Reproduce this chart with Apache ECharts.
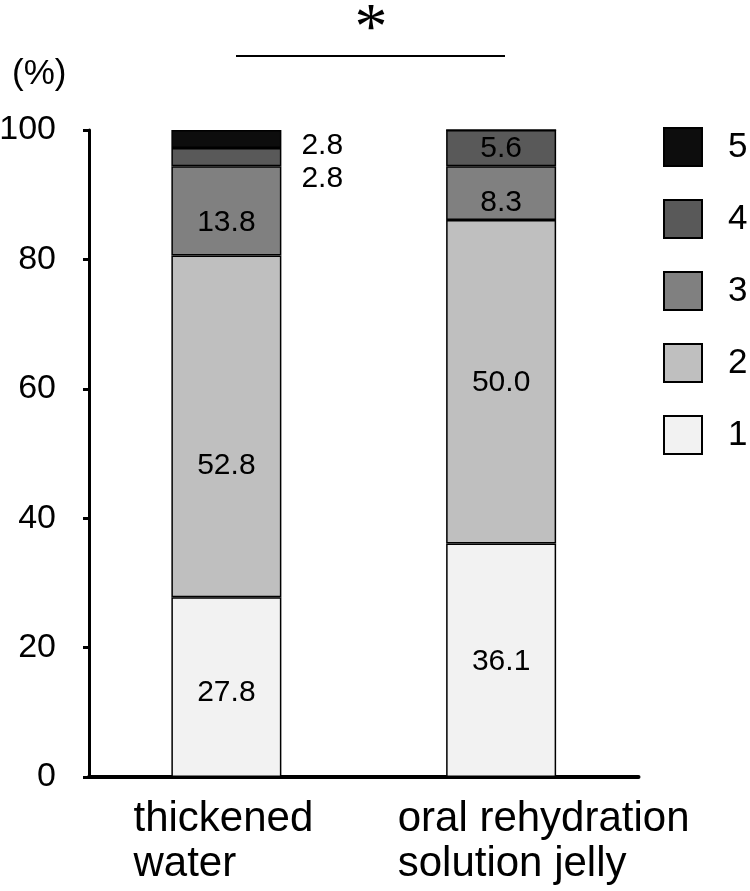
<!DOCTYPE html>
<html>
<head>
<meta charset="utf-8">
<script src="https://cdn.jsdelivr.net/npm/echarts@6/dist/echarts.min.js"></script>
<style>html,body{margin:0;padding:0;background:#fff}#c{width:750px;height:891px}</style>
</head>
<body>
<div id="c"></div>
<script>
const categories = ['thickened water', 'oral rehydration solution jelly'];
const seriesNames = ['1', '2', '3', '4', '5'];
const s1 = [27.8, 36.1];
const s2 = [52.8, 50.0];
const s3 = [13.8, 8.3];
const s4 = [2.8, 5.6];
const s5 = [2.8, 0];
const yTicks = [0, 20, 40, 60, 80, 100];

const values = [s1, s2, s3, s4, s5];
const colors = ['#f2f2f2', '#bfbfbf', '#808080', '#595959', '#0d0d0d'];
// label vertical nudges (px) per series per category
const labelNudge = [[6, 2], [39, 1], [12, 10], [22, 1], [7, 0]];
const outsideLabel = [[false, false], [false, false], [false, false], [true, false], [true, false]];
const FONT = 'Liberation Sans, Arial, sans-serif';

const chart = echarts.init(document.getElementById('c'), null, {renderer: 'canvas'});

const series = seriesNames.map((name, si) => ({
  name: name,
  type: 'bar',
  stack: 'total',
  barWidth: 110,
  itemStyle: {color: colors[si], borderColor: '#000', borderWidth: 1.5},
  emphasis: {disabled: true},
  data: values[si].map((v, ci) => ({
    value: v,
    label: {
      show: v > 0,
      position: outsideLabel[si][ci] ? 'right' : 'inside',
      distance: 20,
      offset: [0, labelNudge[si][ci]],
      formatter: (p) => p.value.toFixed(1),
      color: '#000',
      fontSize: 30,
      fontFamily: FONT
    }
  }))
}));

chart.setOption({
  animation: false,
  backgroundColor: '#fff',
  textStyle: {fontFamily: FONT, color: '#000'},
  grid: {left: 89, right: 111.5, top: 130, bottom: 114, containLabel: false, outerBoundsMode: 'none'},
  legend: {
    orient: 'vertical',
    left: 658,
    top: 122,
    itemWidth: 38,
    itemHeight: 38,
    itemGap: 32,
    icon: 'rect',
    selectedMode: false,
    data: ['5', '4', '3', '2', '1'],
    textStyle: {fontSize: 35, color: '#000', lineHeight: 38, padding: [0, 0, 0, 21], fontFamily: FONT}
  },
  xAxis: {
    type: 'category',
    data: categories,
    axisLine: {lineStyle: {color: '#000', width: 4}},
    axisTick: {show: false},
    axisLabel: {
      interval: 0,
      margin: 20,
      color: '#000',
      fontSize: 42,
      lineHeight: 45,
      formatter: (v, i) => {
        const parts = i === 0 ? ['thickened', 'water'] : ['oral rehydration', 'solution jelly'];
        const st = i === 0 ? 'a' : 'b';
        return parts.map(p => '{' + st + '|' + p + '}').join('\n');
      },
      rich: {
        a: {fontSize: 42, lineHeight: 45, align: 'left', padding: [0, 6, 0, 0], color: '#000'},
        b: {fontSize: 42, lineHeight: 45, align: 'left', padding: [0, 0, 0, 85], color: '#000'}
      }
    }
  },
  yAxis: {
    type: 'value',
    min: yTicks[0],
    max: yTicks[yTicks.length - 1],
    interval: 20,
    splitLine: {show: false},
    axisLine: {show: true, lineStyle: {color: '#000', width: 3}},
    axisTick: {show: true, length: 6, lineStyle: {color: '#000', width: 3}},
    axisLabel: {fontSize: 34, color: '#000', margin: 33}
  },
  graphic: [
    {type: 'text', left: 12, top: 57, style: {text: '(%)', fontSize: 35, fill: '#000', fontFamily: FONT}},
    {type: 'line', shape: {x1: 236, y1: 56, x2: 505, y2: 56}, style: {stroke: '#000', lineWidth: 2}},
    {type: 'text', x: 371, y: 31, style: {text: '*', fontSize: 66, fill: '#000', align: 'center', verticalAlign: 'middle', fontFamily: 'Liberation Serif, serif'}}
  ],
  series: series
});
</script>
</body>
</html>
